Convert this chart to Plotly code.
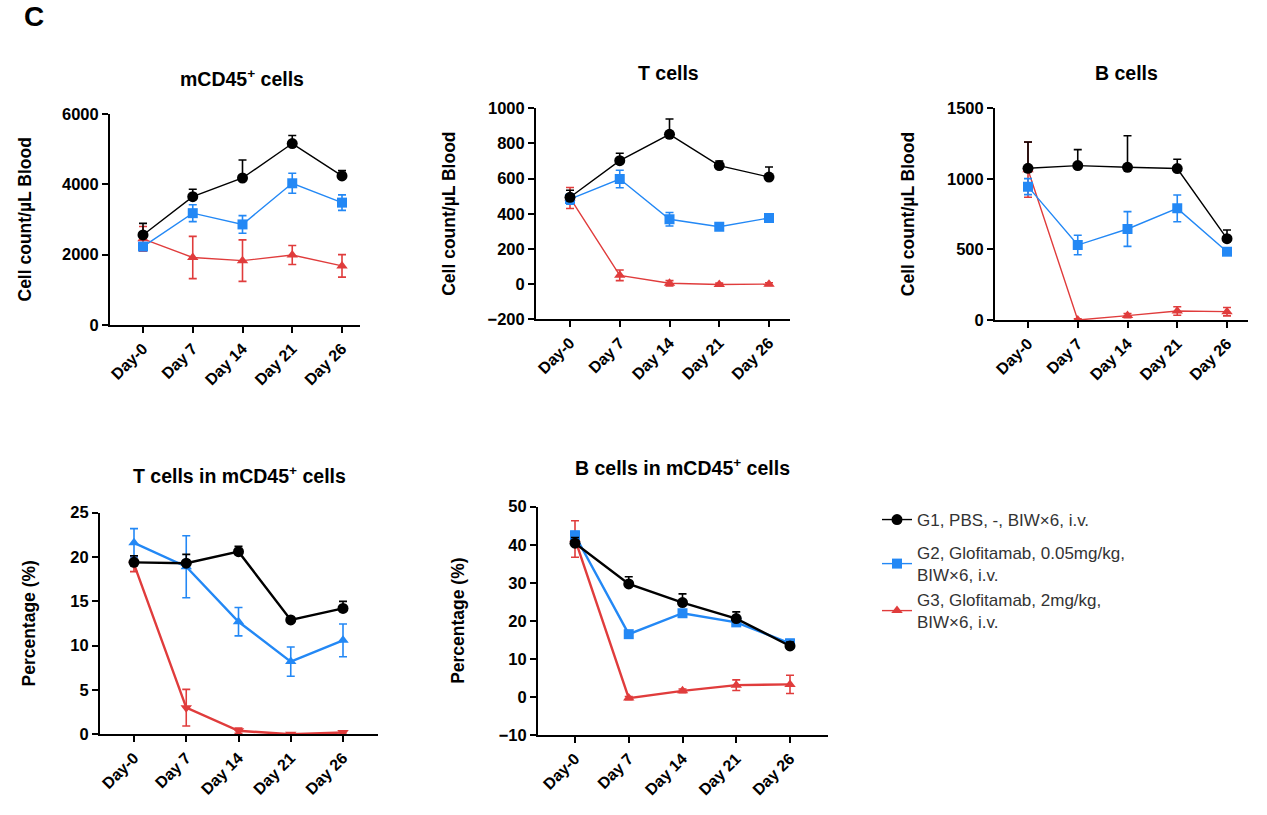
import plotly.graph_objects as go

W, H = 1267, 815
days = ["Day-0", "Day 7", "Day 14", "Day 21", "Day 26"]
groups = ["G1, PBS, -, BIW×6, i.v.",
          "G2, Glofitamab, 0.05mg/kg,<br>BIW×6, i.v.",
          "G3, Glofitamab, 2mg/kg,<br>BIW×6, i.v."]

# Panel 1: mCD45+ cells (cells/uL)
cd45_g1 = [2560, 3650, 4180, 5160, 4240]
cd45_g1_err = [330, 210, 510, 230, 150]
cd45_g2 = [2230, 3180, 2860, 4030, 3480]
cd45_g2_err = [100, 240, 250, 285, 220]
cd45_g3 = [2450, 1920, 1830, 1990, 1680]
cd45_g3_err = [350, 600, 590, 270, 320]

# Panel 2: T cells (cells/uL)
t_g1 = [494, 702, 852, 674, 609]
t_g1_err = [40, 42, 87, 26, 57]
t_g2 = [484, 598, 369, 326, 376]
t_g2_err = [30, 50, 38, 15, 20]
t_g3 = [490, 50, 5, -2, 0]
t_g3_err = [60, 30, 15, 8, 8]

# Panel 3: B cells (cells/uL)
b_g1 = [1075, 1094, 1082, 1073, 576]
b_g1_err = [186, 113, 224, 66, 62]
b_g2 = [945, 531, 645, 791, 484]
b_g2_err = [57, 69, 123, 95, 20]
b_g3 = [1065, 0, 31, 64, 59]
b_g3_err = [195, 8, 15, 30, 30]

# Panel 4: T cells in mCD45+ (%)
tp_g1 = [19.4, 19.3, 20.6, 12.9, 14.2]
tp_g1_err = [0.75, 1.0, 0.6, 0.2, 0.8]
tp_g2 = [21.6, 18.9, 12.7, 8.2, 10.6]
tp_g2_err = [1.6, 3.5, 1.6, 1.65, 1.85]
tp_g3 = [19.2, 3.0, 0.4, 0.0, 0.2]
tp_g3_err = [0.85, 2.07, 0.3, 0.1, 0.2]

# Panel 5: B cells in mCD45+ (%)
bp_g1 = [40.4, 29.7, 24.8, 20.6, 13.4]
bp_g1_err = [1.5, 1.9, 2.3, 1.75, 1.0]
bp_g2 = [42.5, 16.5, 22.0, 19.6, 14.1]
bp_g2_err = [1.0, 0.8, 0.9, 1.0, 1.0]
bp_g3 = [41.5, -0.3, 1.6, 3.1, 3.3]
bp_g3_err = [4.8, 0.4, 0.5, 1.4, 2.4]

BLACK = "#000000"
BLUE = "#2388f5"
RED = "#e03c3c"
FONT = "Liberation Sans, Arial, sans-serif"

panels = [
    dict(x0=110, c0=143, sp=49.75, x1=360, yb=325, yt=114, ymin=0, ymax=6000, dtick=2000,
         title="mCD45<sup>+</sup> cells", tx=242, ty=78, ytitle="Cell count/µL Blood", ytx=24,
         data=[(cd45_g3, cd45_g3_err), (cd45_g2, cd45_g2_err), (cd45_g1, cd45_g1_err)],
         sym=["triangle-up", "square", "circle"], lw=1.4),
    dict(x0=536, c0=570, sp=49.75, x1=790, yb=319.3, yt=108.3, ymin=-200, ymax=1000, dtick=200,
         title="T cells", tx=668, ty=73, ytitle="Cell count/µL Blood", ytx=449,
         data=[(t_g3, t_g3_err), (t_g2, t_g2_err), (t_g1, t_g1_err)],
         sym=["triangle-up", "square", "circle"], lw=1.4),
    dict(x0=995, c0=1028, sp=49.75, x1=1248, yb=320, yt=108.3, ymin=0, ymax=1500, dtick=500,
         title="B cells", tx=1126, ty=73, ytitle="Cell count/µL Blood", ytx=908,
         data=[(b_g3, b_g3_err), (b_g2, b_g2_err), (b_g1, b_g1_err)],
         sym=["triangle-up", "square", "circle"], lw=1.4),
    dict(x0=100, c0=134, sp=52.25, x1=378, yb=734.3, yt=512.7, ymin=0, ymax=25, dtick=5,
         title="T cells in mCD45<sup>+</sup> cells", tx=239, ty=475, ytitle="Percentage (%)", ytx=28,
         data=[(tp_g3, tp_g3_err), (tp_g2, tp_g2_err), (tp_g1, tp_g1_err)],
         sym=["triangle-down", "triangle-up", "circle"], lw=2.4),
    dict(x0=538, c0=575, sp=53.75, x1=828, yb=735, yt=506.7, ymin=-10, ymax=50, dtick=10,
         title="B cells in mCD45<sup>+</sup> cells", tx=682, ty=467, ytitle="Percentage (%)", ytx=458,
         data=[(bp_g3, bp_g3_err), (bp_g2, bp_g2_err), (bp_g1, bp_g1_err)],
         sym=["triangle-up", "square", "circle"], lw=2.4),
]

colors = [RED, BLUE, BLACK]
names = [groups[2], groups[1], groups[0]]
legend_ids = ["legend3", "legend2", "legend"]

fig = go.Figure()
annotations = []
xcats = list(range(len(days)))

for i, p in enumerate(panels):
    k = "" if i == 0 else str(i + 1)
    for j, (vals, err) in enumerate(p["data"]):
        is_black = colors[j] == BLACK
        fig.add_trace(go.Scatter(
            x=xcats, y=vals, mode="lines+markers",
            line=dict(color=colors[j], width=p["lw"]),
            marker=dict(symbol=p["sym"][j], size=10 if not is_black else 11, color=colors[j],
                        line=dict(width=0)),
            error_y=dict(type="data", array=err,
                         arrayminus=[0] * len(err) if is_black else err,
                         symmetric=False, color=colors[j], thickness=1.6, width=4),
            name=names[j], legend=legend_ids[j], showlegend=(i == 0),
            xaxis="x" + k, yaxis="y" + k,
        ))
    xr = [-(p["c0"] - p["x0"]) / p["sp"], 4 + (p["x1"] - (p["c0"] + 4 * p["sp"])) / p["sp"]]
    fig.update_layout(**{
        "xaxis" + k: dict(domain=[p["x0"] / W, p["x1"] / W], range=xr, anchor="y" + k,
                          tickvals=xcats, ticktext=days, tickangle=-45, automargin=False,
                          showline=True, linewidth=2, linecolor="black",
                          ticks="outside", ticklen=6, tickwidth=2, tickcolor="black",
                          showgrid=False, zeroline=False,
                          tickfont=dict(family=FONT, size=16, color="black", weight="bold")),
        "yaxis" + k: dict(domain=[1 - p["yb"] / H, 1 - p["yt"] / H], range=[p["ymin"], p["ymax"]],
                          anchor="x" + k, dtick=p["dtick"], tick0=p["ymin"], automargin=False,
                          showline=True, linewidth=2, linecolor="black",
                          ticks="outside", ticklen=6, tickwidth=2, tickcolor="black",
                          showgrid=False, zeroline=False,
                          tickfont=dict(family=FONT, size=16.5, color="black", weight="bold")),
    })
    annotations.append(dict(text="<b>" + p["title"] + "</b>", x=p["tx"] / W, y=1 - p["ty"] / H,
                            xref="paper", yref="paper", showarrow=False, xanchor="center", yanchor="middle",
                            font=dict(family=FONT, size=19.5, color="black")))
    annotations.append(dict(text="<b>" + p["ytitle"] + "</b>", x=p["ytx"] / W, y=1 - ((p["yb"] + p["yt"]) / 2) / H,
                            xref="paper", yref="paper", showarrow=False, textangle=-90,
                            xanchor="center", yanchor="middle",
                            font=dict(family=FONT, size=17.5, color="black")))

annotations.append(dict(text="<b>C</b>", x=34 / W, y=1 - 17 / H, xref="paper", yref="paper",
                        showarrow=False, xanchor="center", yanchor="middle",
                        font=dict(family=FONT, size=28, color="black")))

leg_common = dict(xanchor="left", yanchor="middle", bgcolor="rgba(0,0,0,0)",
                  font=dict(family=FONT, size=17, color="#333333"), itemwidth=30)
fig.update_layout(
    width=W, height=H, margin=dict(l=0, r=0, t=0, b=0, autoexpand=False),
    paper_bgcolor="white", plot_bgcolor="white",
    annotations=annotations,
    showlegend=True,
    legend=dict(x=877 / W, y=1 - 520 / H, **leg_common),
    legend2=dict(x=877 / W, y=1 - 564 / H, **leg_common),
    legend3=dict(x=877 / W, y=1 - 611 / H, **leg_common),
)

fig.write_html("out.html")
